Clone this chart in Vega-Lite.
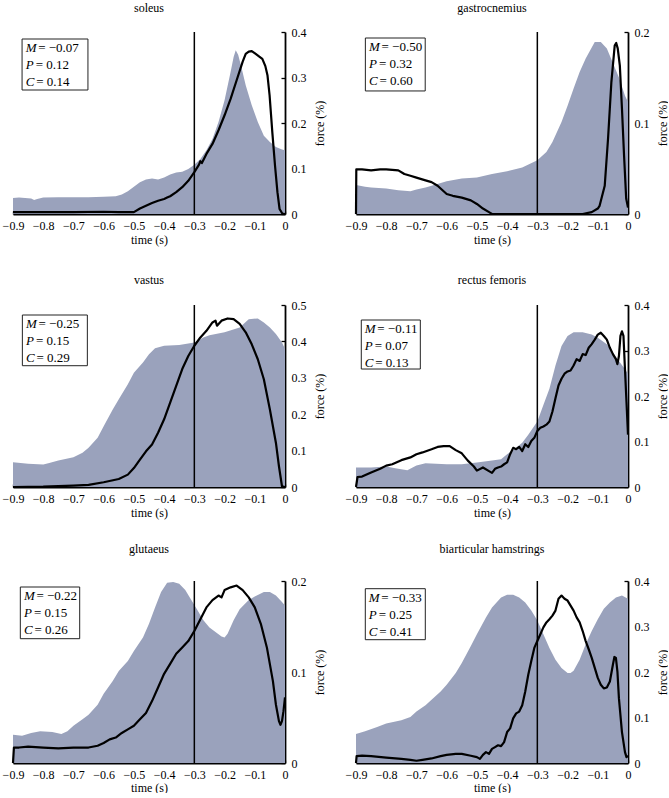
{
  "$schema": "https://vega.github.io/schema/vega-lite/v6.json",
  "padding": {"left": 2, "top": 2, "right": 0, "bottom": 0},
  "config": {
    "font": "Liberation Serif",
    "view": {"stroke": null},
    "axis": {"grid": false, "domainColor": "black", "domainWidth": 1.8, "tickColor": "black", "tickWidth": 1.3, "tickSize": -4, "tickCount": 12, "labelFont": "Liberation Serif", "labelFontSize": 12, "labelColor": "black", "titleFont": "Liberation Serif", "titleFontSize": 12, "titleFontWeight": "normal", "titleColor": "black", "labelFlush": false, "labelOverlap": false},
    "title": {"font": "Liberation Serif", "fontSize": 12, "fontWeight": "normal", "color": "black", "offset": 11},
    "style": {"group-title": {"fontSize": 12, "fontWeight": "normal"}, "guide-title": {"fontWeight": "normal"}},
    "text": {"font": "Liberation Serif", "fontSize": 13, "align": "left", "baseline": "middle", "color": "black"}
  },
  "datasets": {
    "shade": [
      {"muscle":"soleus","t":-0.9,"v":0.035},{"muscle":"soleus","t":-0.88,"v":0.036},{"muscle":"soleus","t":-0.86,"v":0.035},{"muscle":"soleus","t":-0.84,"v":0.034},{"muscle":"soleus","t":-0.83,"v":0.031},{"muscle":"soleus","t":-0.82,"v":0.033},{"muscle":"soleus","t":-0.8,"v":0.036},{"muscle":"soleus","t":-0.75,"v":0.037},{"muscle":"soleus","t":-0.7,"v":0.037},{"muscle":"soleus","t":-0.65,"v":0.037},{"muscle":"soleus","t":-0.6,"v":0.038},{"muscle":"soleus","t":-0.56,"v":0.039},{"muscle":"soleus","t":-0.54,"v":0.043},{"muscle":"soleus","t":-0.52,"v":0.05},{"muscle":"soleus","t":-0.5,"v":0.06},{"muscle":"soleus","t":-0.48,"v":0.07},{"muscle":"soleus","t":-0.46,"v":0.076},{"muscle":"soleus","t":-0.44,"v":0.078},{"muscle":"soleus","t":-0.42,"v":0.076},{"muscle":"soleus","t":-0.4,"v":0.08},{"muscle":"soleus","t":-0.38,"v":0.087},{"muscle":"soleus","t":-0.36,"v":0.091},{"muscle":"soleus","t":-0.34,"v":0.093},{"muscle":"soleus","t":-0.32,"v":0.099},{"muscle":"soleus","t":-0.3,"v":0.108},{"muscle":"soleus","t":-0.28,"v":0.121},{"muscle":"soleus","t":-0.26,"v":0.14},{"muscle":"soleus","t":-0.24,"v":0.165},{"muscle":"soleus","t":-0.22,"v":0.202},{"muscle":"soleus","t":-0.2,"v":0.25},{"muscle":"soleus","t":-0.18,"v":0.312},{"muscle":"soleus","t":-0.17,"v":0.345},{"muscle":"soleus","t":-0.163,"v":0.36},{"muscle":"soleus","t":-0.155,"v":0.35},{"muscle":"soleus","t":-0.145,"v":0.325},{"muscle":"soleus","t":-0.13,"v":0.283},{"muscle":"soleus","t":-0.11,"v":0.239},{"muscle":"soleus","t":-0.09,"v":0.202},{"muscle":"soleus","t":-0.07,"v":0.172},{"muscle":"soleus","t":-0.05,"v":0.158},{"muscle":"soleus","t":-0.03,"v":0.147},{"muscle":"soleus","t":-0.01,"v":0.142},{"muscle":"soleus","t":0,"v":0.14},
      {"muscle":"gastrocnemius","t":-0.9,"v":0.032},{"muscle":"gastrocnemius","t":-0.87,"v":0.03},{"muscle":"gastrocnemius","t":-0.85,"v":0.029},{"muscle":"gastrocnemius","t":-0.8,"v":0.028},{"muscle":"gastrocnemius","t":-0.76,"v":0.026},{"muscle":"gastrocnemius","t":-0.72,"v":0.025},{"muscle":"gastrocnemius","t":-0.7,"v":0.027},{"muscle":"gastrocnemius","t":-0.67,"v":0.029},{"muscle":"gastrocnemius","t":-0.65,"v":0.031},{"muscle":"gastrocnemius","t":-0.6,"v":0.036},{"muscle":"gastrocnemius","t":-0.55,"v":0.039},{"muscle":"gastrocnemius","t":-0.5,"v":0.04},{"muscle":"gastrocnemius","t":-0.45,"v":0.044},{"muscle":"gastrocnemius","t":-0.4,"v":0.047},{"muscle":"gastrocnemius","t":-0.35,"v":0.051},{"muscle":"gastrocnemius","t":-0.3,"v":0.059},{"muscle":"gastrocnemius","t":-0.27,"v":0.068},{"muscle":"gastrocnemius","t":-0.25,"v":0.079},{"muscle":"gastrocnemius","t":-0.22,"v":0.101},{"muscle":"gastrocnemius","t":-0.2,"v":0.119},{"muscle":"gastrocnemius","t":-0.18,"v":0.138},{"muscle":"gastrocnemius","t":-0.16,"v":0.156},{"muscle":"gastrocnemius","t":-0.14,"v":0.171},{"muscle":"gastrocnemius","t":-0.12,"v":0.183},{"muscle":"gastrocnemius","t":-0.11,"v":0.189},{"muscle":"gastrocnemius","t":-0.09,"v":0.189},{"muscle":"gastrocnemius","t":-0.07,"v":0.182},{"muscle":"gastrocnemius","t":-0.05,"v":0.166},{"muscle":"gastrocnemius","t":-0.03,"v":0.15},{"muscle":"gastrocnemius","t":-0.01,"v":0.13},{"muscle":"gastrocnemius","t":0,"v":0.123},
      {"muscle":"vastus","t":-0.9,"v":0.068},{"muscle":"vastus","t":-0.85,"v":0.064},{"muscle":"vastus","t":-0.8,"v":0.062},{"muscle":"vastus","t":-0.78,"v":0.066},{"muscle":"vastus","t":-0.75,"v":0.073},{"muscle":"vastus","t":-0.7,"v":0.082},{"muscle":"vastus","t":-0.67,"v":0.094},{"muscle":"vastus","t":-0.65,"v":0.108},{"muscle":"vastus","t":-0.62,"v":0.135},{"muscle":"vastus","t":-0.6,"v":0.167},{"muscle":"vastus","t":-0.57,"v":0.213},{"muscle":"vastus","t":-0.55,"v":0.241},{"muscle":"vastus","t":-0.52,"v":0.282},{"muscle":"vastus","t":-0.5,"v":0.314},{"muscle":"vastus","t":-0.47,"v":0.342},{"muscle":"vastus","t":-0.45,"v":0.365},{"muscle":"vastus","t":-0.43,"v":0.381},{"muscle":"vastus","t":-0.4,"v":0.388},{"muscle":"vastus","t":-0.35,"v":0.39},{"muscle":"vastus","t":-0.3,"v":0.397},{"muscle":"vastus","t":-0.27,"v":0.411},{"muscle":"vastus","t":-0.25,"v":0.417},{"muscle":"vastus","t":-0.2,"v":0.425},{"muscle":"vastus","t":-0.15,"v":0.438},{"muscle":"vastus","t":-0.12,"v":0.461},{"muscle":"vastus","t":-0.09,"v":0.463},{"muscle":"vastus","t":-0.07,"v":0.452},{"muscle":"vastus","t":-0.05,"v":0.438},{"muscle":"vastus","t":-0.03,"v":0.42},{"muscle":"vastus","t":-0.01,"v":0.397},{"muscle":"vastus","t":0,"v":0.379},
      {"muscle":"rectus femoris","t":-0.9,"v":0.043},{"muscle":"rectus femoris","t":-0.85,"v":0.043},{"muscle":"rectus femoris","t":-0.8,"v":0.045},{"muscle":"rectus femoris","t":-0.77,"v":0.041},{"muscle":"rectus femoris","t":-0.73,"v":0.037},{"muscle":"rectus femoris","t":-0.7,"v":0.047},{"muscle":"rectus femoris","t":-0.67,"v":0.052},{"muscle":"rectus femoris","t":-0.6,"v":0.05},{"muscle":"rectus femoris","t":-0.55,"v":0.05},{"muscle":"rectus femoris","t":-0.5,"v":0.054},{"muscle":"rectus femoris","t":-0.45,"v":0.058},{"muscle":"rectus femoris","t":-0.42,"v":0.061},{"muscle":"rectus femoris","t":-0.4,"v":0.072},{"muscle":"rectus femoris","t":-0.37,"v":0.086},{"muscle":"rectus femoris","t":-0.35,"v":0.097},{"muscle":"rectus femoris","t":-0.33,"v":0.115},{"muscle":"rectus femoris","t":-0.3,"v":0.144},{"muscle":"rectus femoris","t":-0.28,"v":0.18},{"muscle":"rectus femoris","t":-0.26,"v":0.216},{"muscle":"rectus femoris","t":-0.24,"v":0.267},{"muscle":"rectus femoris","t":-0.22,"v":0.31},{"muscle":"rectus femoris","t":-0.2,"v":0.332},{"muscle":"rectus femoris","t":-0.18,"v":0.34},{"muscle":"rectus femoris","t":-0.15,"v":0.34},{"muscle":"rectus femoris","t":-0.12,"v":0.335},{"muscle":"rectus femoris","t":-0.1,"v":0.328},{"muscle":"rectus femoris","t":-0.07,"v":0.314},{"muscle":"rectus femoris","t":-0.05,"v":0.295},{"muscle":"rectus femoris","t":-0.03,"v":0.277},{"muscle":"rectus femoris","t":-0.01,"v":0.259},{"muscle":"rectus femoris","t":0,"v":0.249},
      {"muscle":"glutaeus","t":-0.9,"v":0.031},{"muscle":"glutaeus","t":-0.87,"v":0.03},{"muscle":"glutaeus","t":-0.84,"v":0.033},{"muscle":"glutaeus","t":-0.81,"v":0.035},{"muscle":"glutaeus","t":-0.77,"v":0.034},{"muscle":"glutaeus","t":-0.74,"v":0.032},{"muscle":"glutaeus","t":-0.72,"v":0.035},{"muscle":"glutaeus","t":-0.7,"v":0.041},{"muscle":"glutaeus","t":-0.67,"v":0.048},{"muscle":"glutaeus","t":-0.65,"v":0.053},{"muscle":"glutaeus","t":-0.62,"v":0.064},{"muscle":"glutaeus","t":-0.6,"v":0.076},{"muscle":"glutaeus","t":-0.57,"v":0.09},{"muscle":"glutaeus","t":-0.55,"v":0.101},{"muscle":"glutaeus","t":-0.52,"v":0.112},{"muscle":"glutaeus","t":-0.5,"v":0.123},{"muscle":"glutaeus","t":-0.47,"v":0.138},{"muscle":"glutaeus","t":-0.45,"v":0.153},{"muscle":"glutaeus","t":-0.43,"v":0.171},{"muscle":"glutaeus","t":-0.41,"v":0.188},{"muscle":"glutaeus","t":-0.39,"v":0.198},{"muscle":"glutaeus","t":-0.37,"v":0.199},{"muscle":"glutaeus","t":-0.35,"v":0.197},{"muscle":"glutaeus","t":-0.33,"v":0.19},{"muscle":"glutaeus","t":-0.31,"v":0.179},{"muscle":"glutaeus","t":-0.29,"v":0.168},{"muscle":"glutaeus","t":-0.27,"v":0.157},{"muscle":"glutaeus","t":-0.25,"v":0.149},{"muscle":"glutaeus","t":-0.23,"v":0.144},{"muscle":"glutaeus","t":-0.21,"v":0.139},{"muscle":"glutaeus","t":-0.2,"v":0.138},{"muscle":"glutaeus","t":-0.19,"v":0.142},{"muscle":"glutaeus","t":-0.17,"v":0.157},{"muscle":"glutaeus","t":-0.15,"v":0.169},{"muscle":"glutaeus","t":-0.12,"v":0.179},{"muscle":"glutaeus","t":-0.1,"v":0.183},{"muscle":"glutaeus","t":-0.07,"v":0.188},{"muscle":"glutaeus","t":-0.05,"v":0.188},{"muscle":"glutaeus","t":-0.03,"v":0.184},{"muscle":"glutaeus","t":-0.01,"v":0.177},{"muscle":"glutaeus","t":0,"v":0.173},
      {"muscle":"biarticular hamstrings","t":-0.9,"v":0.064},{"muscle":"biarticular hamstrings","t":-0.87,"v":0.07},{"muscle":"biarticular hamstrings","t":-0.83,"v":0.079},{"muscle":"biarticular hamstrings","t":-0.8,"v":0.087},{"muscle":"biarticular hamstrings","t":-0.75,"v":0.094},{"muscle":"biarticular hamstrings","t":-0.72,"v":0.101},{"muscle":"biarticular hamstrings","t":-0.7,"v":0.113},{"muscle":"biarticular hamstrings","t":-0.67,"v":0.127},{"muscle":"biarticular hamstrings","t":-0.65,"v":0.139},{"muscle":"biarticular hamstrings","t":-0.62,"v":0.157},{"muscle":"biarticular hamstrings","t":-0.6,"v":0.172},{"muscle":"biarticular hamstrings","t":-0.57,"v":0.198},{"muscle":"biarticular hamstrings","t":-0.55,"v":0.22},{"muscle":"biarticular hamstrings","t":-0.52,"v":0.257},{"muscle":"biarticular hamstrings","t":-0.5,"v":0.283},{"muscle":"biarticular hamstrings","t":-0.47,"v":0.32},{"muscle":"biarticular hamstrings","t":-0.45,"v":0.342},{"muscle":"biarticular hamstrings","t":-0.42,"v":0.364},{"muscle":"biarticular hamstrings","t":-0.4,"v":0.37},{"muscle":"biarticular hamstrings","t":-0.38,"v":0.37},{"muscle":"biarticular hamstrings","t":-0.36,"v":0.364},{"muscle":"biarticular hamstrings","t":-0.34,"v":0.353},{"muscle":"biarticular hamstrings","t":-0.32,"v":0.335},{"muscle":"biarticular hamstrings","t":-0.3,"v":0.313},{"muscle":"biarticular hamstrings","t":-0.28,"v":0.283},{"muscle":"biarticular hamstrings","t":-0.26,"v":0.253},{"muscle":"biarticular hamstrings","t":-0.24,"v":0.227},{"muscle":"biarticular hamstrings","t":-0.22,"v":0.209},{"muscle":"biarticular hamstrings","t":-0.2,"v":0.198},{"muscle":"biarticular hamstrings","t":-0.19,"v":0.198},{"muscle":"biarticular hamstrings","t":-0.18,"v":0.203},{"muscle":"biarticular hamstrings","t":-0.16,"v":0.227},{"muscle":"biarticular hamstrings","t":-0.14,"v":0.261},{"muscle":"biarticular hamstrings","t":-0.12,"v":0.29},{"muscle":"biarticular hamstrings","t":-0.1,"v":0.316},{"muscle":"biarticular hamstrings","t":-0.08,"v":0.339},{"muscle":"biarticular hamstrings","t":-0.06,"v":0.353},{"muscle":"biarticular hamstrings","t":-0.04,"v":0.364},{"muscle":"biarticular hamstrings","t":-0.02,"v":0.368},{"muscle":"biarticular hamstrings","t":0,"v":0.361}
    ],
    "line": [
      {"muscle":"soleus","t":-0.9,"v":0.004},{"muscle":"soleus","t":-0.8,"v":0.004},{"muscle":"soleus","t":-0.7,"v":0.004},{"muscle":"soleus","t":-0.6,"v":0.005},{"muscle":"soleus","t":-0.55,"v":0.004},{"muscle":"soleus","t":-0.5,"v":0.004},{"muscle":"soleus","t":-0.48,"v":0.012},{"muscle":"soleus","t":-0.46,"v":0.018},{"muscle":"soleus","t":-0.44,"v":0.024},{"muscle":"soleus","t":-0.42,"v":0.029},{"muscle":"soleus","t":-0.4,"v":0.033},{"muscle":"soleus","t":-0.39,"v":0.036},{"muscle":"soleus","t":-0.38,"v":0.039},{"muscle":"soleus","t":-0.36,"v":0.048},{"muscle":"soleus","t":-0.34,"v":0.059},{"muscle":"soleus","t":-0.32,"v":0.073},{"muscle":"soleus","t":-0.3,"v":0.092},{"muscle":"soleus","t":-0.285,"v":0.108},{"muscle":"soleus","t":-0.28,"v":0.116},{"muscle":"soleus","t":-0.275,"v":0.112},{"muscle":"soleus","t":-0.26,"v":0.132},{"muscle":"soleus","t":-0.24,"v":0.154},{"muscle":"soleus","t":-0.22,"v":0.184},{"muscle":"soleus","t":-0.2,"v":0.217},{"muscle":"soleus","t":-0.18,"v":0.253},{"muscle":"soleus","t":-0.16,"v":0.294},{"muscle":"soleus","t":-0.14,"v":0.335},{"muscle":"soleus","t":-0.13,"v":0.352},{"muscle":"soleus","t":-0.12,"v":0.357},{"muscle":"soleus","t":-0.11,"v":0.358},{"muscle":"soleus","t":-0.097,"v":0.352},{"muscle":"soleus","t":-0.085,"v":0.346},{"muscle":"soleus","t":-0.075,"v":0.341},{"muscle":"soleus","t":-0.065,"v":0.325},{"muscle":"soleus","t":-0.058,"v":0.305},{"muscle":"soleus","t":-0.051,"v":0.261},{"muscle":"soleus","t":-0.042,"v":0.18},{"muscle":"soleus","t":-0.033,"v":0.106},{"muscle":"soleus","t":-0.025,"v":0.048},{"muscle":"soleus","t":-0.018,"v":0.011},{"muscle":"soleus","t":-0.009,"v":0.001},{"muscle":"soleus","t":0,"v":0},
      {"muscle":"gastrocnemius","t":-0.9,"v":0},{"muscle":"gastrocnemius","t":-0.899,"v":0.049},{"muscle":"gastrocnemius","t":-0.88,"v":0.049},{"muscle":"gastrocnemius","t":-0.85,"v":0.048},{"muscle":"gastrocnemius","t":-0.82,"v":0.049},{"muscle":"gastrocnemius","t":-0.8,"v":0.049},{"muscle":"gastrocnemius","t":-0.76,"v":0.048},{"muscle":"gastrocnemius","t":-0.74,"v":0.044},{"muscle":"gastrocnemius","t":-0.72,"v":0.042},{"muscle":"gastrocnemius","t":-0.7,"v":0.04},{"muscle":"gastrocnemius","t":-0.67,"v":0.037},{"muscle":"gastrocnemius","t":-0.65,"v":0.035},{"muscle":"gastrocnemius","t":-0.63,"v":0.031},{"muscle":"gastrocnemius","t":-0.62,"v":0.028},{"muscle":"gastrocnemius","t":-0.6,"v":0.022},{"muscle":"gastrocnemius","t":-0.58,"v":0.02},{"muscle":"gastrocnemius","t":-0.55,"v":0.018},{"muscle":"gastrocnemius","t":-0.52,"v":0.015},{"muscle":"gastrocnemius","t":-0.5,"v":0.011},{"muscle":"gastrocnemius","t":-0.48,"v":0.006},{"muscle":"gastrocnemius","t":-0.46,"v":0.002},{"muscle":"gastrocnemius","t":-0.45,"v":0},{"muscle":"gastrocnemius","t":-0.3,"v":0},{"muscle":"gastrocnemius","t":-0.15,"v":0},{"muscle":"gastrocnemius","t":-0.12,"v":0.002},{"muscle":"gastrocnemius","t":-0.1,"v":0.006},{"muscle":"gastrocnemius","t":-0.094,"v":0.009},{"muscle":"gastrocnemius","t":-0.077,"v":0.031},{"muscle":"gastrocnemius","t":-0.066,"v":0.083},{"muscle":"gastrocnemius","t":-0.055,"v":0.145},{"muscle":"gastrocnemius","t":-0.044,"v":0.185},{"muscle":"gastrocnemius","t":-0.039,"v":0.188},{"muscle":"gastrocnemius","t":-0.034,"v":0.182},{"muscle":"gastrocnemius","t":-0.027,"v":0.163},{"muscle":"gastrocnemius","t":-0.02,"v":0.116},{"muscle":"gastrocnemius","t":-0.013,"v":0.064},{"muscle":"gastrocnemius","t":-0.006,"v":0.017},{"muscle":"gastrocnemius","t":0,"v":0.007},
      {"muscle":"vastus","t":-0.9,"v":0},{"muscle":"vastus","t":-0.8,"v":0.001},{"muscle":"vastus","t":-0.7,"v":0.004},{"muscle":"vastus","t":-0.65,"v":0.006},{"muscle":"vastus","t":-0.6,"v":0.013},{"muscle":"vastus","t":-0.55,"v":0.022},{"muscle":"vastus","t":-0.52,"v":0.034},{"muscle":"vastus","t":-0.5,"v":0.052},{"muscle":"vastus","t":-0.48,"v":0.075},{"muscle":"vastus","t":-0.46,"v":0.098},{"muscle":"vastus","t":-0.44,"v":0.117},{"muscle":"vastus","t":-0.42,"v":0.149},{"muscle":"vastus","t":-0.4,"v":0.186},{"muscle":"vastus","t":-0.38,"v":0.232},{"muscle":"vastus","t":-0.36,"v":0.278},{"muscle":"vastus","t":-0.34,"v":0.324},{"muscle":"vastus","t":-0.32,"v":0.36},{"muscle":"vastus","t":-0.3,"v":0.388},{"muscle":"vastus","t":-0.28,"v":0.411},{"muscle":"vastus","t":-0.26,"v":0.429},{"muscle":"vastus","t":-0.24,"v":0.452},{"muscle":"vastus","t":-0.23,"v":0.457},{"muscle":"vastus","t":-0.225,"v":0.443},{"muscle":"vastus","t":-0.21,"v":0.457},{"muscle":"vastus","t":-0.19,"v":0.463},{"muscle":"vastus","t":-0.17,"v":0.461},{"muscle":"vastus","t":-0.15,"v":0.448},{"muscle":"vastus","t":-0.13,"v":0.425},{"muscle":"vastus","t":-0.11,"v":0.392},{"muscle":"vastus","t":-0.09,"v":0.351},{"muscle":"vastus","t":-0.07,"v":0.296},{"muscle":"vastus","t":-0.05,"v":0.213},{"muscle":"vastus","t":-0.03,"v":0.121},{"muscle":"vastus","t":-0.02,"v":0.057},{"muscle":"vastus","t":-0.01,"v":0.002},{"muscle":"vastus","t":0,"v":0},
      {"muscle":"rectus femoris","t":-0.9,"v":0},{"muscle":"rectus femoris","t":-0.895,"v":0.022},{"muscle":"rectus femoris","t":-0.88,"v":0.023},{"muscle":"rectus femoris","t":-0.85,"v":0.032},{"muscle":"rectus femoris","t":-0.82,"v":0.04},{"muscle":"rectus femoris","t":-0.8,"v":0.047},{"muscle":"rectus femoris","t":-0.78,"v":0.05},{"muscle":"rectus femoris","t":-0.75,"v":0.059},{"muscle":"rectus femoris","t":-0.72,"v":0.065},{"muscle":"rectus femoris","t":-0.7,"v":0.072},{"muscle":"rectus femoris","t":-0.68,"v":0.076},{"muscle":"rectus femoris","t":-0.65,"v":0.083},{"muscle":"rectus femoris","t":-0.63,"v":0.088},{"muscle":"rectus femoris","t":-0.61,"v":0.09},{"muscle":"rectus femoris","t":-0.59,"v":0.09},{"muscle":"rectus femoris","t":-0.57,"v":0.081},{"muscle":"rectus femoris","t":-0.55,"v":0.074},{"muscle":"rectus femoris","t":-0.53,"v":0.058},{"muscle":"rectus femoris","t":-0.51,"v":0.045},{"muscle":"rectus femoris","t":-0.5,"v":0.036},{"muscle":"rectus femoris","t":-0.48,"v":0.043},{"muscle":"rectus femoris","t":-0.46,"v":0.035},{"muscle":"rectus femoris","t":-0.45,"v":0.031},{"muscle":"rectus femoris","t":-0.44,"v":0.04},{"muscle":"rectus femoris","t":-0.43,"v":0.043},{"muscle":"rectus femoris","t":-0.42,"v":0.045},{"muscle":"rectus femoris","t":-0.41,"v":0.05},{"muscle":"rectus femoris","t":-0.4,"v":0.054},{"muscle":"rectus femoris","t":-0.39,"v":0.072},{"muscle":"rectus femoris","t":-0.38,"v":0.086},{"muscle":"rectus femoris","t":-0.37,"v":0.083},{"muscle":"rectus femoris","t":-0.36,"v":0.088},{"muscle":"rectus femoris","t":-0.35,"v":0.079},{"muscle":"rectus femoris","t":-0.34,"v":0.094},{"muscle":"rectus femoris","t":-0.33,"v":0.088},{"muscle":"rectus femoris","t":-0.32,"v":0.101},{"muscle":"rectus femoris","t":-0.31,"v":0.108},{"muscle":"rectus femoris","t":-0.3,"v":0.123},{"muscle":"rectus femoris","t":-0.29,"v":0.13},{"muscle":"rectus femoris","t":-0.28,"v":0.133},{"muscle":"rectus femoris","t":-0.27,"v":0.137},{"muscle":"rectus femoris","t":-0.26,"v":0.144},{"muscle":"rectus femoris","t":-0.25,"v":0.166},{"muscle":"rectus femoris","t":-0.24,"v":0.195},{"muscle":"rectus femoris","t":-0.23,"v":0.223},{"muscle":"rectus femoris","t":-0.22,"v":0.238},{"muscle":"rectus femoris","t":-0.21,"v":0.249},{"muscle":"rectus femoris","t":-0.2,"v":0.254},{"muscle":"rectus femoris","t":-0.19,"v":0.256},{"muscle":"rectus femoris","t":-0.18,"v":0.267},{"muscle":"rectus femoris","t":-0.17,"v":0.281},{"muscle":"rectus femoris","t":-0.16,"v":0.277},{"muscle":"rectus femoris","t":-0.15,"v":0.292},{"muscle":"rectus femoris","t":-0.14,"v":0.29},{"muscle":"rectus femoris","t":-0.13,"v":0.306},{"muscle":"rectus femoris","t":-0.12,"v":0.314},{"muscle":"rectus femoris","t":-0.11,"v":0.324},{"muscle":"rectus femoris","t":-0.1,"v":0.335},{"muscle":"rectus femoris","t":-0.09,"v":0.339},{"muscle":"rectus femoris","t":-0.08,"v":0.332},{"muscle":"rectus femoris","t":-0.07,"v":0.324},{"muscle":"rectus femoris","t":-0.06,"v":0.306},{"muscle":"rectus femoris","t":-0.05,"v":0.292},{"muscle":"rectus femoris","t":-0.04,"v":0.281},{"muscle":"rectus femoris","t":-0.035,"v":0.27},{"muscle":"rectus femoris","t":-0.03,"v":0.288},{"muscle":"rectus femoris","t":-0.025,"v":0.332},{"muscle":"rectus femoris","t":-0.02,"v":0.342},{"muscle":"rectus femoris","t":-0.015,"v":0.332},{"muscle":"rectus femoris","t":-0.01,"v":0.259},{"muscle":"rectus femoris","t":-0.005,"v":0.187},{"muscle":"rectus femoris","t":0,"v":0.115},
      {"muscle":"glutaeus","t":-0.9,"v":0},{"muscle":"glutaeus","t":-0.897,"v":0.017},{"muscle":"glutaeus","t":-0.88,"v":0.017},{"muscle":"glutaeus","t":-0.85,"v":0.018},{"muscle":"glutaeus","t":-0.8,"v":0.017},{"muscle":"glutaeus","t":-0.75,"v":0.016},{"muscle":"glutaeus","t":-0.7,"v":0.017},{"muscle":"glutaeus","t":-0.65,"v":0.017},{"muscle":"glutaeus","t":-0.62,"v":0.019},{"muscle":"glutaeus","t":-0.6,"v":0.022},{"muscle":"glutaeus","t":-0.58,"v":0.026},{"muscle":"glutaeus","t":-0.56,"v":0.028},{"muscle":"glutaeus","t":-0.54,"v":0.033},{"muscle":"glutaeus","t":-0.52,"v":0.037},{"muscle":"glutaeus","t":-0.5,"v":0.041},{"muscle":"glutaeus","t":-0.48,"v":0.048},{"muscle":"glutaeus","t":-0.46,"v":0.055},{"muscle":"glutaeus","t":-0.44,"v":0.068},{"muscle":"glutaeus","t":-0.42,"v":0.083},{"muscle":"glutaeus","t":-0.4,"v":0.098},{"muscle":"glutaeus","t":-0.38,"v":0.109},{"muscle":"glutaeus","t":-0.36,"v":0.12},{"muscle":"glutaeus","t":-0.34,"v":0.127},{"muscle":"glutaeus","t":-0.32,"v":0.134},{"muscle":"glutaeus","t":-0.3,"v":0.145},{"muscle":"glutaeus","t":-0.28,"v":0.158},{"muscle":"glutaeus","t":-0.26,"v":0.171},{"muscle":"glutaeus","t":-0.24,"v":0.179},{"muscle":"glutaeus","t":-0.22,"v":0.184},{"muscle":"glutaeus","t":-0.21,"v":0.182},{"muscle":"glutaeus","t":-0.2,"v":0.19},{"muscle":"glutaeus","t":-0.18,"v":0.193},{"muscle":"glutaeus","t":-0.16,"v":0.195},{"muscle":"glutaeus","t":-0.14,"v":0.19},{"muscle":"glutaeus","t":-0.12,"v":0.182},{"muscle":"glutaeus","t":-0.1,"v":0.171},{"muscle":"glutaeus","t":-0.08,"v":0.153},{"muscle":"glutaeus","t":-0.06,"v":0.127},{"muscle":"glutaeus","t":-0.04,"v":0.09},{"muscle":"glutaeus","t":-0.03,"v":0.064},{"muscle":"glutaeus","t":-0.02,"v":0.046},{"muscle":"glutaeus","t":-0.015,"v":0.042},{"muscle":"glutaeus","t":-0.01,"v":0.046},{"muscle":"glutaeus","t":-0.005,"v":0.057},{"muscle":"glutaeus","t":0,"v":0.072},
      {"muscle":"biarticular hamstrings","t":-0.9,"v":0},{"muscle":"biarticular hamstrings","t":-0.898,"v":0.015},{"muscle":"biarticular hamstrings","t":-0.88,"v":0.016},{"muscle":"biarticular hamstrings","t":-0.85,"v":0.015},{"muscle":"biarticular hamstrings","t":-0.8,"v":0.012},{"muscle":"biarticular hamstrings","t":-0.75,"v":0.009},{"muscle":"biarticular hamstrings","t":-0.72,"v":0.007},{"muscle":"biarticular hamstrings","t":-0.7,"v":0.005},{"muscle":"biarticular hamstrings","t":-0.68,"v":0.007},{"muscle":"biarticular hamstrings","t":-0.65,"v":0.01},{"muscle":"biarticular hamstrings","t":-0.62,"v":0.015},{"muscle":"biarticular hamstrings","t":-0.6,"v":0.018},{"muscle":"biarticular hamstrings","t":-0.57,"v":0.02},{"muscle":"biarticular hamstrings","t":-0.55,"v":0.02},{"muscle":"biarticular hamstrings","t":-0.52,"v":0.016},{"muscle":"biarticular hamstrings","t":-0.5,"v":0.013},{"muscle":"biarticular hamstrings","t":-0.49,"v":0.009},{"muscle":"biarticular hamstrings","t":-0.48,"v":0.018},{"muscle":"biarticular hamstrings","t":-0.47,"v":0.024},{"muscle":"biarticular hamstrings","t":-0.46,"v":0.02},{"muscle":"biarticular hamstrings","t":-0.45,"v":0.031},{"muscle":"biarticular hamstrings","t":-0.44,"v":0.035},{"muscle":"biarticular hamstrings","t":-0.43,"v":0.039},{"muscle":"biarticular hamstrings","t":-0.42,"v":0.037},{"muscle":"biarticular hamstrings","t":-0.41,"v":0.046},{"muscle":"biarticular hamstrings","t":-0.4,"v":0.068},{"muscle":"biarticular hamstrings","t":-0.39,"v":0.076},{"muscle":"biarticular hamstrings","t":-0.38,"v":0.098},{"muscle":"biarticular hamstrings","t":-0.37,"v":0.109},{"muscle":"biarticular hamstrings","t":-0.36,"v":0.113},{"muscle":"biarticular hamstrings","t":-0.35,"v":0.127},{"muscle":"biarticular hamstrings","t":-0.34,"v":0.157},{"muscle":"biarticular hamstrings","t":-0.33,"v":0.194},{"muscle":"biarticular hamstrings","t":-0.32,"v":0.224},{"muscle":"biarticular hamstrings","t":-0.31,"v":0.253},{"muscle":"biarticular hamstrings","t":-0.3,"v":0.268},{"muscle":"biarticular hamstrings","t":-0.29,"v":0.283},{"muscle":"biarticular hamstrings","t":-0.28,"v":0.298},{"muscle":"biarticular hamstrings","t":-0.27,"v":0.309},{"muscle":"biarticular hamstrings","t":-0.26,"v":0.316},{"muscle":"biarticular hamstrings","t":-0.25,"v":0.324},{"muscle":"biarticular hamstrings","t":-0.24,"v":0.335},{"muscle":"biarticular hamstrings","t":-0.23,"v":0.361},{"muscle":"biarticular hamstrings","t":-0.22,"v":0.368},{"muscle":"biarticular hamstrings","t":-0.21,"v":0.361},{"muscle":"biarticular hamstrings","t":-0.2,"v":0.357},{"muscle":"biarticular hamstrings","t":-0.19,"v":0.346},{"muscle":"biarticular hamstrings","t":-0.18,"v":0.335},{"muscle":"biarticular hamstrings","t":-0.17,"v":0.32},{"muscle":"biarticular hamstrings","t":-0.16,"v":0.309},{"muscle":"biarticular hamstrings","t":-0.15,"v":0.29},{"muscle":"biarticular hamstrings","t":-0.14,"v":0.268},{"muscle":"biarticular hamstrings","t":-0.13,"v":0.25},{"muscle":"biarticular hamstrings","t":-0.12,"v":0.231},{"muscle":"biarticular hamstrings","t":-0.11,"v":0.209},{"muscle":"biarticular hamstrings","t":-0.1,"v":0.187},{"muscle":"biarticular hamstrings","t":-0.09,"v":0.172},{"muscle":"biarticular hamstrings","t":-0.08,"v":0.164},{"muscle":"biarticular hamstrings","t":-0.07,"v":0.166},{"muscle":"biarticular hamstrings","t":-0.06,"v":0.179},{"muscle":"biarticular hamstrings","t":-0.05,"v":0.216},{"muscle":"biarticular hamstrings","t":-0.045,"v":0.233},{"muscle":"biarticular hamstrings","t":-0.04,"v":0.231},{"muscle":"biarticular hamstrings","t":-0.035,"v":0.201},{"muscle":"biarticular hamstrings","t":-0.03,"v":0.142},{"muscle":"biarticular hamstrings","t":-0.02,"v":0.068},{"muscle":"biarticular hamstrings","t":-0.01,"v":0.024},{"muscle":"biarticular hamstrings","t":-0.005,"v":0.013},{"muscle":"biarticular hamstrings","t":0,"v":0.016}
    ],
    "stats": [
      {"muscle":"soleus","stat":"M","value":-0.07},{"muscle":"soleus","stat":"P","value":0.12},{"muscle":"soleus","stat":"C","value":0.14},
      {"muscle":"gastrocnemius","stat":"M","value":-0.5},{"muscle":"gastrocnemius","stat":"P","value":0.32},{"muscle":"gastrocnemius","stat":"C","value":0.6},
      {"muscle":"vastus","stat":"M","value":-0.25},{"muscle":"vastus","stat":"P","value":0.15},{"muscle":"vastus","stat":"C","value":0.29},
      {"muscle":"rectus femoris","stat":"M","value":-0.11},{"muscle":"rectus femoris","stat":"P","value":0.07},{"muscle":"rectus femoris","stat":"C","value":0.13},
      {"muscle":"glutaeus","stat":"M","value":-0.22},{"muscle":"glutaeus","stat":"P","value":0.15},{"muscle":"glutaeus","stat":"C","value":0.26},
      {"muscle":"biarticular hamstrings","stat":"M","value":-0.33},{"muscle":"biarticular hamstrings","stat":"P","value":0.25},{"muscle":"biarticular hamstrings","stat":"C","value":0.41}
    ]
  },
  "spacing": 29,
  "vconcat": [
    {"spacing": 20, "hconcat": [
      {"title": {"text": "soleus", "offset": 11}, "width": 272, "height": 182, "layer": [
        {"data": {"name": "shade"}, "transform": [{"filter": "datum.muscle === 'soleus'"}], "mark": {"type": "area", "color": "#9aa2bc"},
         "encoding": {"x": {"field": "t", "type": "quantitative", "scale": {"domain": [-0.9, 0], "nice": false, "zero": false}, "axis": {"title": "time (s)", "values": [-0.9,-0.8,-0.7,-0.6,-0.5,-0.4,-0.3,-0.2,-0.1,0], "tickCount": 12, "labelExpr": "datum.value === 0 ? '0' : format(datum.value, '.1f')", "labelOverlap": false, "labelPadding": 9, "titlePadding": 3, "tickSize": -3}},
                      "y": {"field": "v", "type": "quantitative", "scale": {"domain": [0, 0.4], "nice": false}, "axis": {"orient": "right", "title": "force (%)", "titleAngle": 270, "titleBaseline": "top", "titlePadding": 8, "values": [0,0.1,0.2,0.3,0.4], "tickCount": 12, "labelExpr": "datum.value === 0 ? '0' : format(datum.value, '.1f')", "labelOverlap": false, "labelPadding": 10}}}},
        {"data": {"name": "line"}, "transform": [{"filter": "datum.muscle === 'soleus'"}], "mark": {"type": "line", "color": "black", "strokeWidth": 2.2, "strokeJoin": "round"},
         "encoding": {"x": {"field": "t", "type": "quantitative"}, "y": {"field": "v", "type": "quantitative"}}},
        {"data": {"values": [{}]}, "mark": {"type": "rule", "color": "black", "strokeWidth": 1.5}, "encoding": {"x": {"datum": -0.3}, "y": {"datum": 0}, "y2": {"datum": 0.4}}},
        {"data": {"values": [{}]}, "mark": {"type": "rect", "fill": "white", "stroke": "#222", "strokeWidth": 1}, "encoding": {"x": {"datum": -0.87}, "x2": {"datum": -0.652}, "y": {"datum": 0.3846}, "y2": {"datum": 0.2725}}},
        {"data": {"name": "stats"}, "transform": [{"filter": "datum.muscle === 'soleus'"}, {"calculate": "'= ' + format(datum.value, '.2f')", "as": "label"}],
         "encoding": {"x": {"datum": -0.858}, "y": {"datum": 0.3648}},
         "layer": [
           {"transform": [{"filter": "datum.stat === 'M'"}], "mark": {"type": "text", "fontStyle": "italic"}, "encoding": {"text": {"field": "stat"}}},
           {"transform": [{"filter": "datum.stat === 'M'"}], "mark": {"type": "text", "dx": 12.5}, "encoding": {"text": {"field": "label"}}},
           {"transform": [{"filter": "datum.stat === 'P'"}], "mark": {"type": "text", "fontStyle": "italic", "dy": 17}, "encoding": {"text": {"field": "stat"}}},
           {"transform": [{"filter": "datum.stat === 'P'"}], "mark": {"type": "text", "dx": 10, "dy": 17}, "encoding": {"text": {"field": "label"}}},
           {"transform": [{"filter": "datum.stat === 'C'"}], "mark": {"type": "text", "fontStyle": "italic", "dy": 34}, "encoding": {"text": {"field": "stat"}}},
           {"transform": [{"filter": "datum.stat === 'C'"}], "mark": {"type": "text", "dx": 10.5, "dy": 34}, "encoding": {"text": {"field": "label"}}}
         ]}
      ]},
      {"title": {"text": "gastrocnemius", "offset": 11}, "width": 272, "height": 182, "layer": [
        {"data": {"name": "shade"}, "transform": [{"filter": "datum.muscle === 'gastrocnemius'"}], "mark": {"type": "area", "color": "#9aa2bc"},
         "encoding": {"x": {"field": "t", "type": "quantitative", "scale": {"domain": [-0.9, 0], "nice": false, "zero": false}, "axis": {"title": "time (s)", "values": [-0.9,-0.8,-0.7,-0.6,-0.5,-0.4,-0.3,-0.2,-0.1,0], "tickCount": 12, "labelExpr": "datum.value === 0 ? '0' : format(datum.value, '.1f')", "labelOverlap": false, "labelPadding": 9, "titlePadding": 3, "tickSize": -3}},
                      "y": {"field": "v", "type": "quantitative", "scale": {"domain": [0, 0.2], "nice": false}, "axis": {"orient": "right", "title": "force (%)", "titleAngle": 270, "titleBaseline": "top", "titlePadding": 8, "values": [0,0.1,0.2], "tickCount": 12, "labelExpr": "datum.value === 0 ? '0' : format(datum.value, '.1f')", "labelOverlap": false, "labelPadding": 10}}}},
        {"data": {"name": "line"}, "transform": [{"filter": "datum.muscle === 'gastrocnemius'"}], "mark": {"type": "line", "color": "black", "strokeWidth": 2.2, "strokeJoin": "round"},
         "encoding": {"x": {"field": "t", "type": "quantitative"}, "y": {"field": "v", "type": "quantitative"}}},
        {"data": {"values": [{}]}, "mark": {"type": "rule", "color": "black", "strokeWidth": 1.5}, "encoding": {"x": {"datum": -0.3}, "y": {"datum": 0}, "y2": {"datum": 0.2}}},
        {"data": {"values": [{}]}, "mark": {"type": "rect", "fill": "white", "stroke": "#222", "strokeWidth": 1}, "encoding": {"x": {"datum": -0.869}, "x2": {"datum": -0.671}, "y": {"datum": 0.1934}, "y2": {"datum": 0.1352}}},
        {"data": {"name": "stats"}, "transform": [{"filter": "datum.muscle === 'gastrocnemius'"}, {"calculate": "'= ' + format(datum.value, '.2f')", "as": "label"}],
         "encoding": {"x": {"datum": -0.857}, "y": {"datum": 0.1835}},
         "layer": [
           {"transform": [{"filter": "datum.stat === 'M'"}], "mark": {"type": "text", "fontStyle": "italic"}, "encoding": {"text": {"field": "stat"}}},
           {"transform": [{"filter": "datum.stat === 'M'"}], "mark": {"type": "text", "dx": 12.5}, "encoding": {"text": {"field": "label"}}},
           {"transform": [{"filter": "datum.stat === 'P'"}], "mark": {"type": "text", "fontStyle": "italic", "dy": 17}, "encoding": {"text": {"field": "stat"}}},
           {"transform": [{"filter": "datum.stat === 'P'"}], "mark": {"type": "text", "dx": 10, "dy": 17}, "encoding": {"text": {"field": "label"}}},
           {"transform": [{"filter": "datum.stat === 'C'"}], "mark": {"type": "text", "fontStyle": "italic", "dy": 34}, "encoding": {"text": {"field": "stat"}}},
           {"transform": [{"filter": "datum.stat === 'C'"}], "mark": {"type": "text", "dx": 10.5, "dy": 34}, "encoding": {"text": {"field": "label"}}}
         ]}
      ]}
    ]},
    {"spacing": 25, "vconcat": [
    {"spacing": 20, "hconcat": [
      {"title": {"text": "vastus", "offset": 12}, "width": 272, "height": 182, "layer": [
        {"data": {"name": "shade"}, "transform": [{"filter": "datum.muscle === 'vastus'"}], "mark": {"type": "area", "color": "#9aa2bc"},
         "encoding": {"x": {"field": "t", "type": "quantitative", "scale": {"domain": [-0.9, 0], "nice": false, "zero": false}, "axis": {"title": "time (s)", "values": [-0.9,-0.8,-0.7,-0.6,-0.5,-0.4,-0.3,-0.2,-0.1,0], "tickCount": 12, "labelExpr": "datum.value === 0 ? '0' : format(datum.value, '.1f')", "labelOverlap": false, "labelPadding": 9, "titlePadding": 3, "tickSize": -3}},
                      "y": {"field": "v", "type": "quantitative", "scale": {"domain": [0, 0.5], "nice": false}, "axis": {"orient": "right", "title": "force (%)", "titleAngle": 270, "titleBaseline": "top", "titlePadding": 8, "values": [0,0.1,0.2,0.3,0.4,0.5], "tickCount": 12, "labelExpr": "datum.value === 0 ? '0' : format(datum.value, '.1f')", "labelOverlap": false, "labelPadding": 10}}}},
        {"data": {"name": "line"}, "transform": [{"filter": "datum.muscle === 'vastus'"}], "mark": {"type": "line", "color": "black", "strokeWidth": 2.2, "strokeJoin": "round"},
         "encoding": {"x": {"field": "t", "type": "quantitative"}, "y": {"field": "v", "type": "quantitative"}}},
        {"data": {"values": [{}]}, "mark": {"type": "rule", "color": "black", "strokeWidth": 1.5}, "encoding": {"x": {"datum": -0.3}, "y": {"datum": 0}, "y2": {"datum": 0.5}}},
        {"data": {"values": [{}]}, "mark": {"type": "rect", "fill": "white", "stroke": "#222", "strokeWidth": 1}, "encoding": {"x": {"datum": -0.869}, "x2": {"datum": -0.654}, "y": {"datum": 0.4725}, "y2": {"datum": 0.3332}}},
        {"data": {"name": "stats"}, "transform": [{"filter": "datum.muscle === 'vastus'"}, {"calculate": "'= ' + format(datum.value, '.2f')", "as": "label"}],
         "encoding": {"x": {"datum": -0.857}, "y": {"datum": 0.4478}},
         "layer": [
           {"transform": [{"filter": "datum.stat === 'M'"}], "mark": {"type": "text", "fontStyle": "italic"}, "encoding": {"text": {"field": "stat"}}},
           {"transform": [{"filter": "datum.stat === 'M'"}], "mark": {"type": "text", "dx": 12.5}, "encoding": {"text": {"field": "label"}}},
           {"transform": [{"filter": "datum.stat === 'P'"}], "mark": {"type": "text", "fontStyle": "italic", "dy": 17}, "encoding": {"text": {"field": "stat"}}},
           {"transform": [{"filter": "datum.stat === 'P'"}], "mark": {"type": "text", "dx": 10, "dy": 17}, "encoding": {"text": {"field": "label"}}},
           {"transform": [{"filter": "datum.stat === 'C'"}], "mark": {"type": "text", "fontStyle": "italic", "dy": 34}, "encoding": {"text": {"field": "stat"}}},
           {"transform": [{"filter": "datum.stat === 'C'"}], "mark": {"type": "text", "dx": 10.5, "dy": 34}, "encoding": {"text": {"field": "label"}}}
         ]}
      ]},
      {"title": {"text": "rectus femoris", "offset": 12}, "width": 272, "height": 182, "layer": [
        {"data": {"name": "shade"}, "transform": [{"filter": "datum.muscle === 'rectus femoris'"}], "mark": {"type": "area", "color": "#9aa2bc"},
         "encoding": {"x": {"field": "t", "type": "quantitative", "scale": {"domain": [-0.9, 0], "nice": false, "zero": false}, "axis": {"title": "time (s)", "values": [-0.9,-0.8,-0.7,-0.6,-0.5,-0.4,-0.3,-0.2,-0.1,0], "tickCount": 12, "labelExpr": "datum.value === 0 ? '0' : format(datum.value, '.1f')", "labelOverlap": false, "labelPadding": 9, "titlePadding": 3, "tickSize": -3}},
                      "y": {"field": "v", "type": "quantitative", "scale": {"domain": [0, 0.4], "nice": false}, "axis": {"orient": "right", "title": "force (%)", "titleAngle": 270, "titleBaseline": "top", "titlePadding": 8, "values": [0,0.1,0.2,0.3,0.4], "tickCount": 12, "labelExpr": "datum.value === 0 ? '0' : format(datum.value, '.1f')", "labelOverlap": false, "labelPadding": 10}}}},
        {"data": {"name": "line"}, "transform": [{"filter": "datum.muscle === 'rectus femoris'"}], "mark": {"type": "line", "color": "black", "strokeWidth": 2.2, "strokeJoin": "round"},
         "encoding": {"x": {"field": "t", "type": "quantitative"}, "y": {"field": "v", "type": "quantitative"}}},
        {"data": {"values": [{}]}, "mark": {"type": "rule", "color": "black", "strokeWidth": 1.5}, "encoding": {"x": {"datum": -0.3}, "y": {"datum": 0}, "y2": {"datum": 0.4}}},
        {"data": {"values": [{}]}, "mark": {"type": "rect", "fill": "white", "stroke": "#222", "strokeWidth": 1}, "encoding": {"x": {"datum": -0.8825}, "x2": {"datum": -0.6872}, "y": {"datum": 0.367}, "y2": {"datum": 0.2593}}},
        {"data": {"name": "stats"}, "transform": [{"filter": "datum.muscle === 'rectus femoris'"}, {"calculate": "'= ' + format(datum.value, '.2f')", "as": "label"}],
         "encoding": {"x": {"datum": -0.871}, "y": {"datum": 0.3473}},
         "layer": [
           {"transform": [{"filter": "datum.stat === 'M'"}], "mark": {"type": "text", "fontStyle": "italic"}, "encoding": {"text": {"field": "stat"}}},
           {"transform": [{"filter": "datum.stat === 'M'"}], "mark": {"type": "text", "dx": 12.5}, "encoding": {"text": {"field": "label"}}},
           {"transform": [{"filter": "datum.stat === 'P'"}], "mark": {"type": "text", "fontStyle": "italic", "dy": 17}, "encoding": {"text": {"field": "stat"}}},
           {"transform": [{"filter": "datum.stat === 'P'"}], "mark": {"type": "text", "dx": 10, "dy": 17}, "encoding": {"text": {"field": "label"}}},
           {"transform": [{"filter": "datum.stat === 'C'"}], "mark": {"type": "text", "fontStyle": "italic", "dy": 34}, "encoding": {"text": {"field": "stat"}}},
           {"transform": [{"filter": "datum.stat === 'C'"}], "mark": {"type": "text", "dx": 10.5, "dy": 34}, "encoding": {"text": {"field": "label"}}}
         ]}
      ]}
    ]},
    {"spacing": 20, "hconcat": [
      {"title": {"text": "glutaeus", "offset": 19}, "width": 272, "height": 182, "layer": [
        {"data": {"name": "shade"}, "transform": [{"filter": "datum.muscle === 'glutaeus'"}], "mark": {"type": "area", "color": "#9aa2bc"},
         "encoding": {"x": {"field": "t", "type": "quantitative", "scale": {"domain": [-0.9, 0], "nice": false, "zero": false}, "axis": {"title": "time (s)", "values": [-0.9,-0.8,-0.7,-0.6,-0.5,-0.4,-0.3,-0.2,-0.1,0], "tickCount": 12, "labelExpr": "datum.value === 0 ? '0' : format(datum.value, '.1f')", "labelOverlap": false, "labelPadding": 9, "titlePadding": 2, "tickSize": -3}},
                      "y": {"field": "v", "type": "quantitative", "scale": {"domain": [0, 0.2], "nice": false}, "axis": {"orient": "right", "title": "force (%)", "titleAngle": 270, "titleBaseline": "top", "titlePadding": 8, "values": [0,0.1,0.2], "tickCount": 12, "labelExpr": "datum.value === 0 ? '0' : format(datum.value, '.1f')", "labelOverlap": false, "labelPadding": 10}}}},
        {"data": {"name": "line"}, "transform": [{"filter": "datum.muscle === 'glutaeus'"}], "mark": {"type": "line", "color": "black", "strokeWidth": 2.2, "strokeJoin": "round"},
         "encoding": {"x": {"field": "t", "type": "quantitative"}, "y": {"field": "v", "type": "quantitative"}}},
        {"data": {"values": [{}]}, "mark": {"type": "rule", "color": "black", "strokeWidth": 1.5}, "encoding": {"x": {"datum": -0.3}, "y": {"datum": 0}, "y2": {"datum": 0.2}}},
        {"data": {"values": [{}]}, "mark": {"type": "rect", "fill": "white", "stroke": "#222", "strokeWidth": 1}, "encoding": {"x": {"datum": -0.8758}, "x2": {"datum": -0.6793}, "y": {"datum": 0.1934}, "y2": {"datum": 0.1366}}},
        {"data": {"name": "stats"}, "transform": [{"filter": "datum.muscle === 'glutaeus'"}, {"calculate": "'= ' + format(datum.value, '.2f')", "as": "label"}],
         "encoding": {"x": {"datum": -0.864}, "y": {"datum": 0.1835}},
         "layer": [
           {"transform": [{"filter": "datum.stat === 'M'"}], "mark": {"type": "text", "fontStyle": "italic"}, "encoding": {"text": {"field": "stat"}}},
           {"transform": [{"filter": "datum.stat === 'M'"}], "mark": {"type": "text", "dx": 12.5}, "encoding": {"text": {"field": "label"}}},
           {"transform": [{"filter": "datum.stat === 'P'"}], "mark": {"type": "text", "fontStyle": "italic", "dy": 17}, "encoding": {"text": {"field": "stat"}}},
           {"transform": [{"filter": "datum.stat === 'P'"}], "mark": {"type": "text", "dx": 10, "dy": 17}, "encoding": {"text": {"field": "label"}}},
           {"transform": [{"filter": "datum.stat === 'C'"}], "mark": {"type": "text", "fontStyle": "italic", "dy": 34}, "encoding": {"text": {"field": "stat"}}},
           {"transform": [{"filter": "datum.stat === 'C'"}], "mark": {"type": "text", "dx": 10.5, "dy": 34}, "encoding": {"text": {"field": "label"}}}
         ]}
      ]},
      {"title": {"text": "biarticular hamstrings", "offset": 19}, "width": 272, "height": 182, "layer": [
        {"data": {"name": "shade"}, "transform": [{"filter": "datum.muscle === 'biarticular hamstrings'"}], "mark": {"type": "area", "color": "#9aa2bc"},
         "encoding": {"x": {"field": "t", "type": "quantitative", "scale": {"domain": [-0.9, 0], "nice": false, "zero": false}, "axis": {"title": "time (s)", "values": [-0.9,-0.8,-0.7,-0.6,-0.5,-0.4,-0.3,-0.2,-0.1,0], "tickCount": 12, "labelExpr": "datum.value === 0 ? '0' : format(datum.value, '.1f')", "labelOverlap": false, "labelPadding": 9, "titlePadding": 2, "tickSize": -3}},
                      "y": {"field": "v", "type": "quantitative", "scale": {"domain": [0, 0.4], "nice": false}, "axis": {"orient": "right", "title": "force (%)", "titleAngle": 270, "titleBaseline": "top", "titlePadding": 8, "values": [0,0.1,0.2,0.3,0.4], "tickCount": 12, "labelExpr": "datum.value === 0 ? '0' : format(datum.value, '.1f')", "labelOverlap": false, "labelPadding": 10}}}},
        {"data": {"name": "line"}, "transform": [{"filter": "datum.muscle === 'biarticular hamstrings'"}], "mark": {"type": "line", "color": "black", "strokeWidth": 2.2, "strokeJoin": "round"},
         "encoding": {"x": {"field": "t", "type": "quantitative"}, "y": {"field": "v", "type": "quantitative"}}},
        {"data": {"values": [{}]}, "mark": {"type": "rule", "color": "black", "strokeWidth": 1.5}, "encoding": {"x": {"datum": -0.3}, "y": {"datum": 0}, "y2": {"datum": 0.4}}},
        {"data": {"values": [{}]}, "mark": {"type": "rect", "fill": "white", "stroke": "#222", "strokeWidth": 1}, "encoding": {"x": {"datum": -0.8692}, "x2": {"datum": -0.6707}, "y": {"datum": 0.3831}, "y2": {"datum": 0.271}}},
        {"data": {"name": "stats"}, "transform": [{"filter": "datum.muscle === 'biarticular hamstrings'"}, {"calculate": "'= ' + format(datum.value, '.2f')", "as": "label"}],
         "encoding": {"x": {"datum": -0.858}, "y": {"datum": 0.3633}},
         "layer": [
           {"transform": [{"filter": "datum.stat === 'M'"}], "mark": {"type": "text", "fontStyle": "italic"}, "encoding": {"text": {"field": "stat"}}},
           {"transform": [{"filter": "datum.stat === 'M'"}], "mark": {"type": "text", "dx": 12.5}, "encoding": {"text": {"field": "label"}}},
           {"transform": [{"filter": "datum.stat === 'P'"}], "mark": {"type": "text", "fontStyle": "italic", "dy": 17}, "encoding": {"text": {"field": "stat"}}},
           {"transform": [{"filter": "datum.stat === 'P'"}], "mark": {"type": "text", "dx": 10, "dy": 17}, "encoding": {"text": {"field": "label"}}},
           {"transform": [{"filter": "datum.stat === 'C'"}], "mark": {"type": "text", "fontStyle": "italic", "dy": 34}, "encoding": {"text": {"field": "stat"}}},
           {"transform": [{"filter": "datum.stat === 'C'"}], "mark": {"type": "text", "dx": 10.5, "dy": 34}, "encoding": {"text": {"field": "label"}}}
         ]}
      ]}
    ]}
    ]}
  ]
}
